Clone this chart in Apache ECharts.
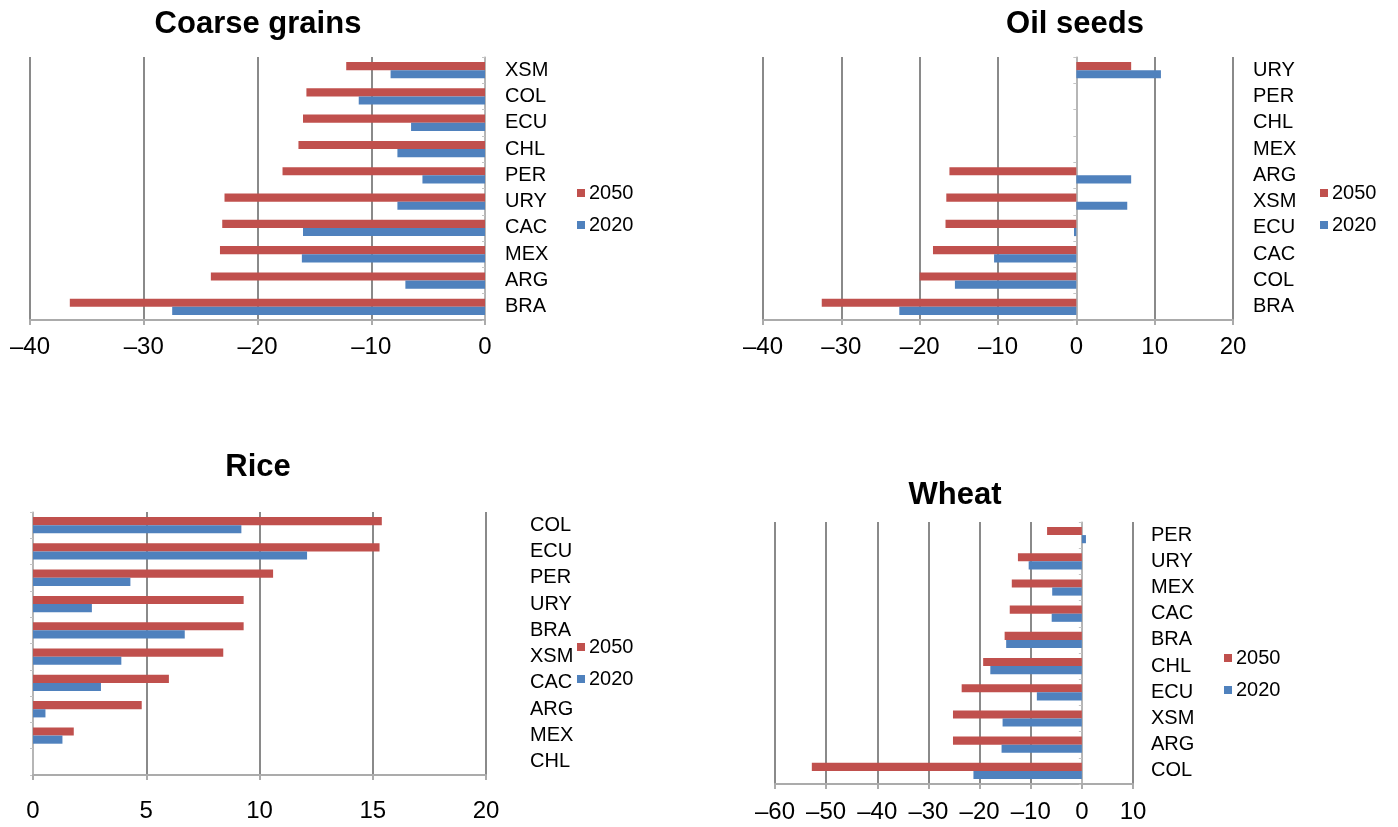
<!DOCTYPE html>
<html>
<head>
<meta charset="utf-8">
<script src="https://cdn.jsdelivr.net/npm/echarts@6/dist/echarts.min.js"></script>
<style>
html,body{margin:0;padding:0;background:#fff;}
#chart{width:1398px;height:827px;}
</style>
</head>
<body>
<div id="chart"></div>
<script>
// ---- Data ----
const seriesNames = ['2050', '2020'];

const coarseCategories = ['XSM','COL','ECU','CHL','PER','URY','CAC','MEX','ARG','BRA'];
const coarse2050 = [-12.2,-15.7,-16.0,-16.4,-17.8,-22.9,-23.1,-23.3,-24.1,-36.5];
const coarse2020 = [-8.3,-11.1,-6.5,-7.7,-5.5,-7.7,-16.0,-16.1,-7.0,-27.5];
const coarseTicks = [-40,-30,-20,-10,0];

const oilCategories = ['URY','PER','CHL','MEX','ARG','XSM','ECU','CAC','COL','BRA'];
const oil2050 = [7.0,0,0,0,-16.2,-16.6,-16.7,-18.3,-20.0,-32.5];
const oil2020 = [10.8,0,0,0,7.0,6.5,-0.3,-10.5,-15.5,-22.6];
const oilTicks = [-40,-30,-20,-10,0,10,20];

const riceCategories = ['COL','ECU','PER','URY','BRA','XSM','CAC','ARG','MEX','CHL'];
const rice2050 = [15.4,15.3,10.6,9.3,9.3,8.4,6.0,4.8,1.8,0];
const rice2020 = [9.2,12.1,4.3,2.6,6.7,3.9,3.0,0.55,1.3,0];
const riceTicks = [0,5,10,15,20];

const wheatCategories = ['PER','URY','MEX','CAC','BRA','CHL','ECU','XSM','ARG','COL'];
const wheat2050 = [-6.8,-12.5,-13.7,-14.1,-15.1,-19.3,-23.5,-25.2,-25.2,-52.8];
const wheat2020 = [0.8,-10.4,-5.8,-5.9,-14.8,-17.9,-8.8,-15.5,-15.7,-21.2];
const wheatTicks = [-60,-50,-40,-30,-20,-10,0,10];

// ---- Styling / layout ----
const FONT = '"Liberation Sans", Arial, Helvetica, sans-serif';
const RED = '#C0504D';
const BLUE = '#4F81BD';

const panels = [
  {title:'Coarse grains', cats:coarseCategories, a:coarse2050, b:coarse2020, ticks:coarseTicks,
   grid:{left:30, top:57, width:455, height:263}, titleX:258, titleY:24,
   catMargin:20, catPad:[6,0,0,0], tickMargin:15, legend:{left:577, top:183}},
  {title:'Oil seeds', cats:oilCategories, a:oil2050, b:oil2020, ticks:oilTicks,
   grid:{left:763, top:57, width:470, height:263}, titleX:1075, titleY:24,
   catMargin:20, catPad:[8,0,0,0], tickMargin:15, legend:{left:1320, top:183}},
  {title:'Rice', cats:riceCategories, a:rice2050, b:rice2020, ticks:riceTicks,
   grid:{left:33, top:512, width:453, height:263}, titleX:258, titleY:467,
   catMargin:44, catPad:[2,0,0,0], tickMargin:24, legend:{left:577, top:637}},
  {title:'Wheat', cats:wheatCategories, a:wheat2050, b:wheat2020, ticks:wheatTicks,
   grid:{left:775, top:522, width:358, height:262}, titleX:955, titleY:495,
   catMargin:18, catPad:[0,0,12,0], tickMargin:16, legend:{left:1224, top:648}}
];

const fmt = v => (v < 0 ? '\u2013' + Math.abs(v) : String(v));

const option = {
  animation:false,
  backgroundColor:'#fff',
  grid:[], xAxis:[], yAxis:[], series:[], legend:[], graphic:[]
};

panels.forEach((p, i) => {
  option.grid.push(Object.assign({containLabel:false}, p.grid));
  option.xAxis.push({
    type:'value', gridIndex:i,
    min:p.ticks[0], max:p.ticks[p.ticks.length-1], interval:p.ticks[1]-p.ticks[0],
    axisLine:{show:true, onZero:false, lineStyle:{color:'#ababab', width:2}},
    axisTick:{show:true, length:5, lineStyle:{color:'#ababab', width:2}},
    axisLabel:{color:'#000', fontSize:24, fontFamily:FONT, margin:p.tickMargin, formatter:fmt},
    splitLine:{show:true, lineStyle:{color:'#8a8a8a', width:2}}
  });
  // axis line crossing at zero (no labels)
  option.yAxis.push({
    type:'category', gridIndex:i, data:p.cats, inverse:true, position:'left',
    axisLine:{show:true, onZero:true, lineStyle:{color:'#c4c4c4', width:1.5}},
    axisTick:{show:true, length:3, lineStyle:{color:'#c4c4c4'}},
    axisLabel:{show:false}, splitLine:{show:false}
  });
  // category labels on the right
  option.yAxis.push({
    type:'category', gridIndex:i, data:p.cats, inverse:true, position:'right',
    axisLine:{show:false}, axisTick:{show:false}, splitLine:{show:false},
    axisLabel:{show:true, color:'#000', fontSize:20, fontFamily:FONT, margin:p.catMargin, padding:p.catPad}
  });
  const yIdx = i*2;
  option.series.push({
    type:'bar', name:seriesNames[0], xAxisIndex:i, yAxisIndex:yIdx, data:p.a,
    itemStyle:{color:RED}, barCategoryGap:'38%', barGap:'0%'
  });
  option.series.push({
    type:'bar', name:seriesNames[1], xAxisIndex:i, yAxisIndex:yIdx, data:p.b,
    itemStyle:{color:BLUE}, barCategoryGap:'38%', barGap:'0%'
  });
  option.legend.push({
    data:seriesNames, orient:'vertical', left:p.legend.left, top:p.legend.top,
    icon:'rect', itemWidth:8, itemHeight:8, itemGap:12, padding:0,
    selectedMode:false,
    textStyle:{color:'#000', fontSize:20, fontFamily:FONT, padding:[0,0,0,-1]}
  });
  option.graphic.push({
    type:'text', x:p.titleX, y:p.titleY, silent:true,
    style:{text:p.title, align:'center', verticalAlign:'middle', textAlign:'center', textVerticalAlign:'middle',
           fontSize:31, fontWeight:'bold', fontFamily:FONT, fill:'#000'}
  });
});

const chart = echarts.init(document.getElementById('chart'), null, {renderer:'canvas'});
chart.setOption(option);
</script>
</body>
</html>
